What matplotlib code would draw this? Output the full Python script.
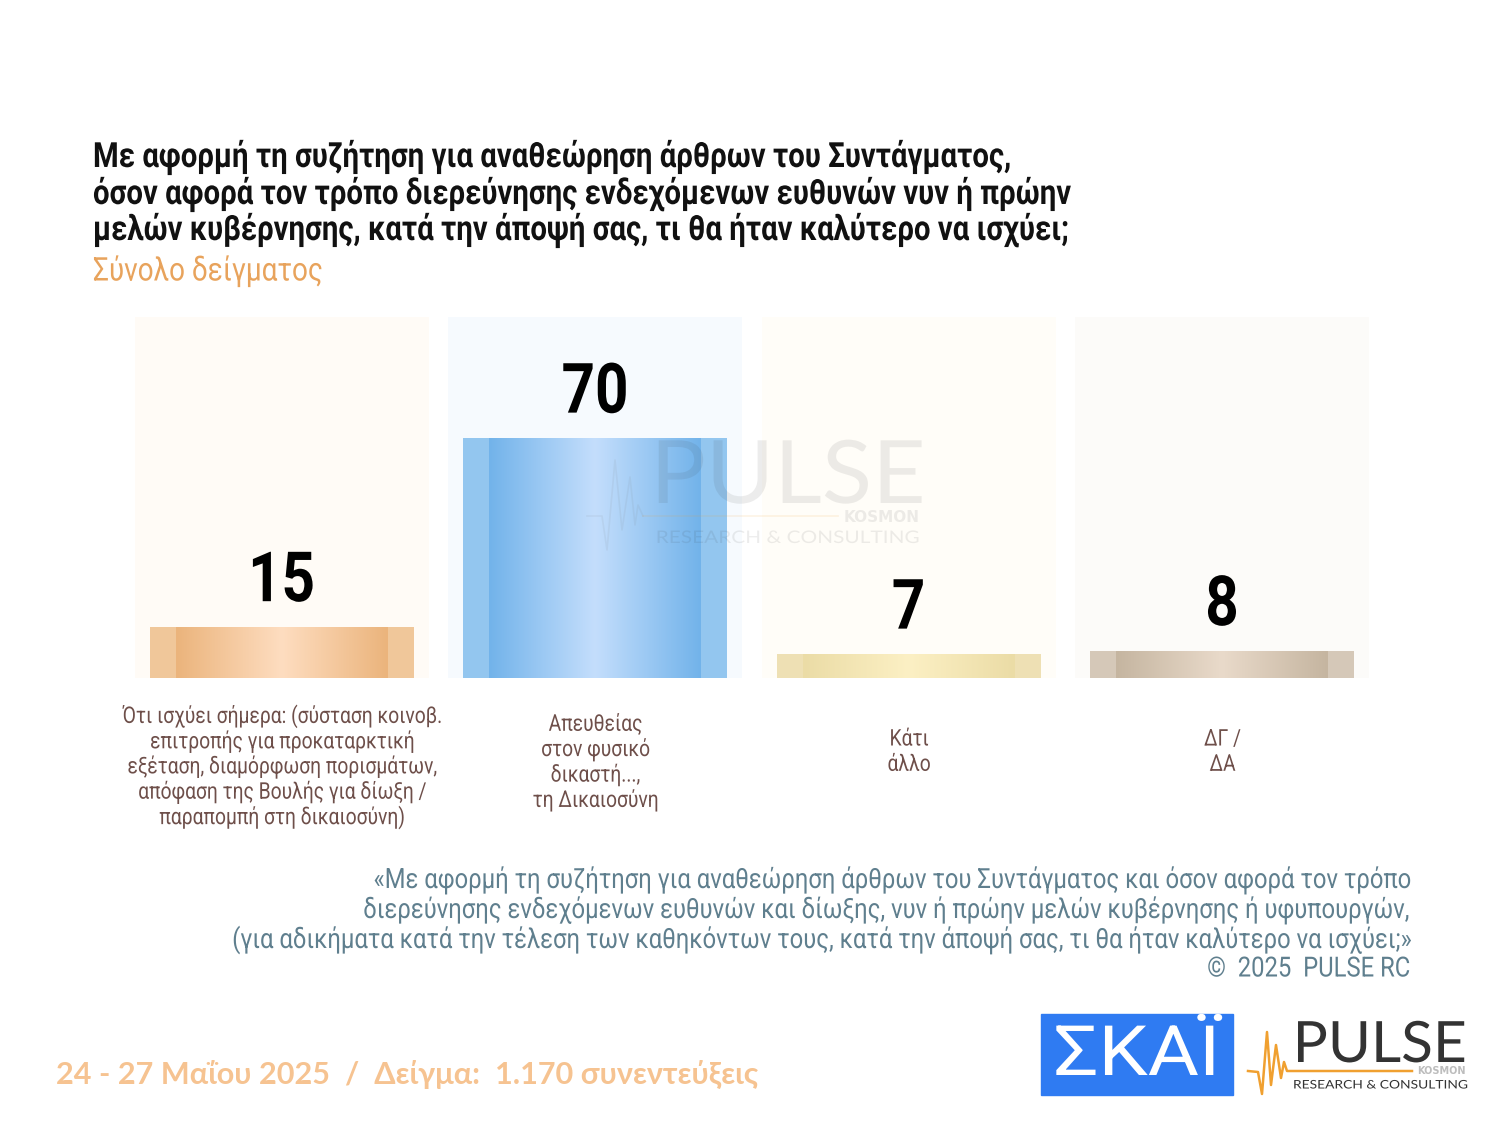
import matplotlib
matplotlib.use("Agg")
import matplotlib.pyplot as plt
import numpy as np
from matplotlib.colors import LinearSegmentedColormap
from matplotlib.patches import Rectangle
from matplotlib.patheffects import AbstractPathEffect
from matplotlib.transforms import Affine2D

ROBOTO = ['Roboto', 'DejaVu Sans']
LATO = ['Lato', 'DejaVu Sans']

values = [15, 70, 7, 8]
value_labels = ['15', '70', '7', '8']
categories = [
    ['Ότι ισχύει σήμερα: (σύσταση κοινοβ.', 'επιτροπής για προκαταρκτική',
     'εξέταση, διαμόρφωση πορισμάτων,', 'απόφαση της Βουλής για δίωξη /',
     'παραπομπή στη δικαιοσύνη)'],
    ['Απευθείας', 'στον φυσικό', 'δικαστή...,', 'τη Δικαιοσύνη'],
    ['Κάτι', 'άλλο'],
    ['ΔΓ /', 'ΔΑ'],
]
title_lines = [
    'Με αφορμή τη συζήτηση για αναθεώρηση άρθρων του Συντάγματος,',
    'όσον αφορά τον τρόπο διερεύνησης ενδεχόμενων ευθυνών νυν ή πρώην',
    'μελών κυβέρνησης, κατά την άποψή σας, τι θα ήταν καλύτερο να ισχύει;',
]
subtitle = 'Σύνολο δείγματος'
note_lines = [
    '«Με αφορμή τη συζήτηση για αναθεώρηση άρθρων του Συντάγματος και όσον αφορά τον τρόπο',
    'διερεύνησης ενδεχόμενων ευθυνών και δίωξης, νυν ή πρώην μελών κυβέρνησης ή υφυπουργών,',
    '(για αδικήματα κατά την τέλεση των καθηκόντων τους, κατά την άποψή σας, τι θα ήταν καλύτερο να ισχύει;»',
    '©  2025  PULSE RC',
]
footer = '24 - 27 Μαΐου 2025  /  Δείγμα:  1.170 συνεντεύξεις'

panel_colors = ['#FFFBF6', '#F6FAFE', '#FFFDF8', '#FCFBF9']
edge_colors = ['#F0C79A', '#93C6EF', '#EEE0B4', '#D5C8B8']
dark_colors = ['#EBB47C', '#72B3EA', '#EBDCA6', '#C5B5A0']
light_colors = ['#FEDDC0', '#C4DEFC', '#FCF0C4', '#E9DACA']


class HStretch(AbstractPathEffect):
    """Draws a text horizontally condensed/expanded about a display-x anchor."""
    def __init__(self, anchor, sx):
        super().__init__()
        self.anchor, self.sx = anchor, sx

    def draw_path(self, renderer, gc, tpath, affine, rgbFace=None):
        t = affine + Affine2D().translate(-self.anchor, 0).scale(self.sx, 1).translate(self.anchor, 0)
        renderer.draw_path(gc, tpath, t, rgbFace)


def stext(axes, x, y, s, sx, **kw):
    t = axes.text(x, y, s, **kw)
    t.set_path_effects([HStretch(axes.transData.transform((x, y))[0], sx)])
    return t


W, H = 1500, 1125
fig = plt.figure(figsize=(15, 11.25), dpi=100, facecolor='white')

top_px, base_px = 317, 678
left_px, right_px = 124.8, 1378.8
unit = 313.5
ymax = (base_px - top_px) / (240 / 70)
ax = fig.add_axes([left_px / W, 1 - base_px / H, (right_px - left_px) / W, (base_px - top_px) / H])
ax.set_xlim(-0.5, 3.5)
ax.set_ylim(0, ymax)
ax.axis('off')

x = np.arange(len(values))
ax.bar(x, [ymax] * 4, width=294 / unit, color=panel_colors, zorder=1)
bars = ax.bar(x, values, width=264 / unit, color=edge_colors, zorder=2)
inner_w = 212 / unit
for i, v in enumerate(values):
    cmap = LinearSegmentedColormap.from_list('g', [dark_colors[i], light_colors[i], dark_colors[i]])
    grad = np.linspace(0, 1, 256)[None, :]
    im = ax.imshow(grad, cmap=cmap, aspect='auto', zorder=3, interpolation='bilinear',
                   extent=(i - inner_w / 2, i + inner_w / 2, 0, v))
    im.set_clip_path(bars[i])
    stext(ax, i, v + 12.8, value_labels[i], 0.84, ha='center', va='center',
          fontsize=50, fontweight='bold', family=ROBOTO, color='black', zorder=5)
ax.set_xlim(-0.5, 3.5)
ax.set_ylim(0, ymax)

ov = fig.add_axes([0, 0, 1, 1], facecolor='none')
ov.set_xlim(0, W)
ov.set_ylim(H, 0)
ov.axis('off')

for line, y in zip(title_lines, [157, 194, 230]):
    stext(ov, 93, y, line, 0.845, fontsize=25, fontweight='bold', family=ROBOTO, color='#111111',
          ha='left', va='center')
stext(ov, 93, 271, subtitle, 0.855, fontsize=23.5, family=ROBOTO, color='#E8A35C', ha='left', va='center')

centers = [282, 595.5, 909, 1222.5]
starts = [716, 724, 739, 739]
for cx, y0, lines in zip(centers, starts, categories):
    for k, line in enumerate(lines):
        stext(ov, cx, y0 + k * 25.3, line, 0.84, fontsize=16.5, family=ROBOTO, color='#6E4F4A',
              ha='center', va='center')

for line, y in zip(note_lines, [880, 910, 940, 969]):
    stext(ov, 1410, y, line, 0.858, fontsize=20, family=ROBOTO, color='#5F7F8E', ha='right', va='center')

ov.text(56, 1074, footer, fontsize=22.1, fontweight='bold', family=LATO,
        color='#F6C391', ha='left', va='center')

# SKAI logo
ov.add_patch(Rectangle((1041, 1014), 192, 81, color='#2F7BF2', zorder=2))
stext(ov, 1137, 1075, 'ΣΚΑΪ', 1.13, fontsize=50, color='white', family=ROBOTO,
      ha='center', va='baseline', zorder=3)

# PULSE logo
ov.plot([1248, 1258, 1262, 1267, 1271, 1276, 1281, 1284, 1287, 1412],
        [1071, 1072, 1094, 1032, 1085, 1045, 1078, 1062, 1071, 1071],
        color='#F0A030', lw=1.8, zorder=6)
stext(ov, 1380, 1062, 'PULSE', 1.03, fontsize=41, color='#333333', family=LATO,
      ha='center', va='baseline', zorder=6)
ov.text(1441, 1071, 'KOSMON', fontsize=7, fontweight='bold', color='#BDBDBD',
        ha='center', va='center', zorder=6)
stext(ov, 1380, 1085, 'RESEARCH & CONSULTING', 1.17, fontsize=8.5, color='#333333',
      family=LATO, ha='center', va='center', zorder=6)

# Watermark
wm = 0.09
ov.plot([587, 602, 607, 615, 622, 630, 635, 638, 643],
        [516, 516, 550, 460, 530, 477, 525, 505, 516], color='#777777', lw=1.2, alpha=wm, zorder=6)
ov.plot([643, 838], [516, 516], color='#F0A030', lw=1.2, alpha=0.12, zorder=6)
stext(ov, 788, 503, 'PULSE', 1.06, fontsize=63, color='#333333', family=LATO,
      ha='center', va='baseline', alpha=wm, zorder=6)
ov.text(882, 518, 'KOSMON', fontsize=11, fontweight='bold', color='#333333', ha='center', va='center',
        alpha=wm, zorder=6)
stext(ov, 788, 538, 'RESEARCH & CONSULTING', 1.2, fontsize=12.5, color='#333333',
      family=LATO, ha='center', va='center', alpha=wm, zorder=6)

fig.savefig('out.png', dpi=100)
